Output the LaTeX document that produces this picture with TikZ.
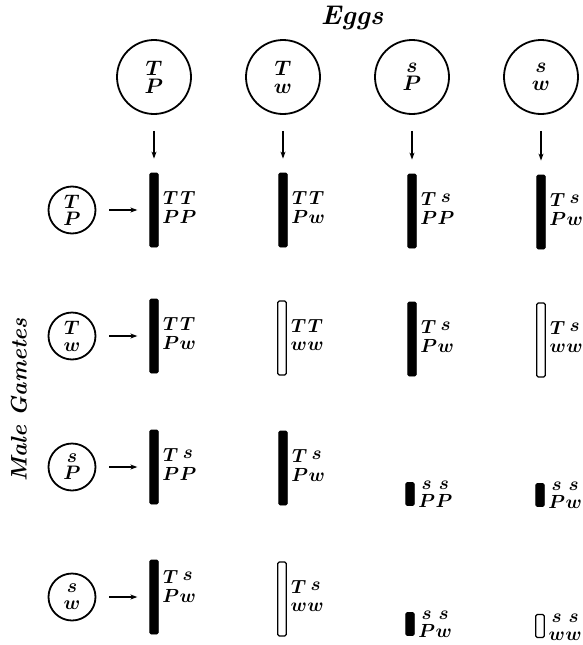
\RequirePackage{fix-cm}
\documentclass[tikz,border=0pt]{standalone}
\usepackage{tikz}
\usetikzlibrary{arrows.meta,positioning}
\newcommand{\sgen}{\raisebox{3pt}{$s$}}
\newcommand{\geno}[4]{\begin{tabular}[b]{@{}c@{\hspace{0.5pt}}c@{}}$#1$&$#2$\\$#3$&$#4$\end{tabular}}
\tikzset{
  flow/.style={-{Stealth[length=7pt,width=5pt]}, line width=1.4pt},
  egg/.style={circle, draw, line width=1.8pt, minimum size=74pt, inner sep=0pt, align=center,
              font=\boldmath\fontsize{21}{18}\selectfont},
  gam/.style={egg, minimum size=47pt, font=\boldmath\fontsize{19.5}{17}\selectfont},
  bar/.style={rectangle, rounded corners=1.5pt, fill=black, draw=black, line width=0.8pt,
              minimum width=8.5pt, minimum height=74pt, inner sep=0pt},
  hollow/.style={bar, fill=white, line width=1.3pt},
  shortbar/.style={bar, minimum height=23pt},
  gtext/.style={inner sep=0pt},
  title/.style={font=\fontsize{27}{27}\selectfont\bfseries\itshape},
}
\begin{document}
\begin{tikzpicture}[x=1pt,y=-1pt,node distance=3.5pt,font=\boldmath\fontsize{19}{18}\selectfont]
    \useasboundingbox (0,0) rectangle (583,645);
    \node[title] (eggs) at (352,18) {Eggs};
    \node[title,font=\fontsize{22.5}{22.5}\selectfont\bfseries\itshape,rotate=90] (male) at (19,400) {Male Gametes};

    \node[egg] (e1) at (154,77) {$T$\\$P$};
    \node[egg] (e2) at (283,77) {$T$\\$w$};
    \node[egg] (e3) at (412,77) {$s$\\$P$};
    \node[egg] (e4) at (541,77) {$s$\\$w$};

    \node[gam] (m1) at (72,210) {$T$\\$P$};
    \node[gam] (m2) at (72,336) {$T$\\$w$};
    \node[gam] (m3) at (72,467) {$s$\\$P$};
    \node[gam] (m4) at (72,597) {$s$\\$w$};

    \node[bar] (b11) at (154,210) {};
    \node[bar] (b12) at (283,210) {};
    \node[bar] (b13) at (412,211) {};
    \node[bar] (b14) at (541,212) {};
    \node[bar] (b21) at (154,336) {};
    \node[hollow] (b22) at (282,338) {};
    \node[bar] (b23) at (412,339) {};
    \node[hollow] (b24) at (541,340) {};
    \node[bar] (b31) at (154,467) {};
    \node[bar] (b32) at (283,468) {};
    \node[shortbar] (b33) at (410,494) {};
    \node[shortbar] (b34) at (540,495) {};
    \node[bar] (b41) at (154,597) {};
    \node[hollow] (b42) at (282,599) {};
    \node[shortbar] (b43) at (410,624) {};
    \node[hollow,minimum height=23pt] (b44) at (540,626) {};

    \node[gtext,right=of b11] (g11) {\geno{T}{T}{P}{P}};
    \node[gtext,right=of b12] (g12) {\geno{T}{T}{P}{w}};
    \node[gtext,right=of b13] (g13) {\geno{T}{\sgen}{P}{P}};
    \node[gtext,right=of b14] (g14) {\geno{T}{\sgen}{P}{w}};
    \node[gtext,right=of b21] (g21) {\geno{T}{T}{P}{w}};
    \node[gtext,right=of b22] (g22) {\geno{T}{T}{w}{w}};
    \node[gtext,right=of b23] (g23) {\geno{T}{\sgen}{P}{w}};
    \node[gtext,right=of b24] (g24) {\geno{T}{\sgen}{w}{w}};
    \node[gtext,right=of b31] (g31) {\geno{T}{\sgen}{P}{P}};
    \node[gtext,right=of b32] (g32) {\geno{T}{\sgen}{P}{w}};
    \node[gtext,anchor=base west] (g33) at ([xshift=3.5pt,yshift=-2pt]b33.south east) {\geno{s}{s}{P}{P}};
    \node[gtext,anchor=base west] (g34) at ([xshift=3.5pt,yshift=-2pt]b34.south east) {\geno{s}{s}{P}{w}};
    \node[gtext,anchor=west] (g41) at ([xshift=3.5pt,yshift=8pt]b41.east) {\geno{T}{\sgen}{P}{w}};
    \node[gtext,right=of b42] (g42) {\geno{T}{\sgen}{w}{w}};
    \node[gtext,anchor=base west] (g43) at ([xshift=3.5pt,yshift=-2pt]b43.south east) {\geno{s}{s}{P}{w}};
    \node[gtext,anchor=base west] (g44) at ([xshift=3.5pt,yshift=-2pt]b44.south east) {\geno{s}{s}{w}{w}};

    \draw[flow] ([yshift=-16pt]e1.south) -- ([yshift=14pt]b11.north);
    \draw[flow] ([yshift=-16pt]e2.south) -- ([yshift=14pt]b12.north);
    \draw[flow] ([yshift=-16pt]e3.south) -- ([yshift=14pt]b13.north);
    \draw[flow] ([yshift=-16pt]e4.south) -- ([yshift=14pt]b14.north);
    \draw[flow] ([xshift=13pt]m1.east) -- ([xshift=-12pt]b11.west);
    \draw[flow] ([xshift=13pt]m2.east) -- ([xshift=-12pt]b21.west);
    \draw[flow] ([xshift=13pt]m3.east) -- ([xshift=-12pt]b31.west);
    \draw[flow] ([xshift=13pt]m4.east) -- ([xshift=-12pt]b41.west);
  \end{tikzpicture}
\end{document}
